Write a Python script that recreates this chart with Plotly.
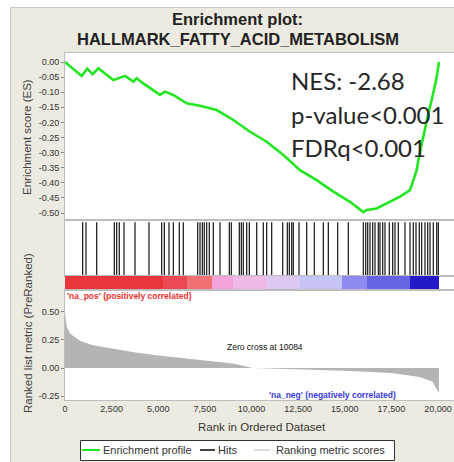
import plotly.graph_objects as go

# ---------------- data ----------------
es_rank = [0, 894, 1197, 1484, 1788, 2592, 3217, 3664, 3843, 4200, 5094, 5362, 5808,
           6523, 7238, 8132, 9026, 9920, 10814, 11707, 12601, 13495, 14388, 15282,
           15997, 16176, 16712, 17248, 17963, 18499, 18678, 18857, 18946, 19125,
           19303, 19482, 19661, 19900, 20054]
es_value = [0.0, -0.046, -0.022, -0.040, -0.021, -0.060, -0.046, -0.065, -0.054, -0.071,
            -0.109, -0.098, -0.109, -0.137, -0.145, -0.159, -0.192, -0.231, -0.264,
            -0.308, -0.358, -0.391, -0.429, -0.463, -0.497, -0.490, -0.485, -0.468,
            -0.446, -0.424, -0.391, -0.358, -0.325, -0.269, -0.225, -0.170, -0.126,
            -0.060, 0.0]

hit_rank = [947, 1126, 1698, 2645, 2770, 2913, 3164, 3753, 4504, 5183, 5326, 5576, 5809,
            6130, 6345, 7113, 7239, 7364, 7471, 7596, 7739, 7953, 8311, 8811, 8919,
            9347, 9455, 9562, 9741, 9884, 10277, 10634, 10813, 11081, 11671, 11921,
            12029, 12154, 12243, 12547, 12958, 13369, 13852, 14120, 14620, 15192,
            15996, 16122, 16229, 16354, 16497, 16622, 16801, 16890, 17033, 17158,
            17390, 17569, 17694, 17873, 18230, 18498, 18677, 18820, 18999, 19124,
            19303, 19446, 19571, 19750, 19929, 20018]

band_edges = [0, 5273, 6524, 7882, 9026, 10813, 12601, 14835, 16175, 18499, 20071]
band_colors = ['#E8363C', '#EC4A52', '#F07074', '#F2A4DA', '#EEBAE6', '#DCC8F2',
               '#C6C4F4', '#8E8AF0', '#6664E2', '#2418C8']

metric_rank = [0, 100, 300, 800, 1500, 2500, 3700, 5000, 7200, 9000, 10084, 12500,
               15000, 17500, 19000, 19700, 20050]
metric_value = [0.48, 0.36, 0.30, 0.24, 0.20, 0.17, 0.14, 0.11, 0.075, 0.04, 0.0,
                -0.01, -0.025, -0.045, -0.08, -0.12, -0.22]

x_tickvals = [0, 2500, 5000, 7500, 10000, 12500, 15000, 17500, 20000]
x_ticktext = ['0', '2,500', '5,000', '7,500', '10,000', '12,500', '15,000', '17,500', '20,000']
es_tickvals = [0.0, -0.05, -0.10, -0.15, -0.20, -0.25, -0.30, -0.35, -0.40, -0.45, -0.50]
es_ticktext = ['0.00', '-0.05', '-0.10', '-0.15', '-0.20', '-0.25', '-0.30', '-0.35',
               '-0.40', '-0.45', '-0.50']
metric_tickvals = [0.50, 0.25, 0.0, -0.25]
metric_ticktext = ['0.50', '0.25', '0.00', '-0.25']

title_lines = ['Enrichment plot:', 'HALLMARK_FATTY_ACID_METABOLISM']
stats_lines = ['NES: -2.68', 'p-value<0.001', 'FDRq<0.001']
legend_labels = ['Enrichment profile', 'Hits', 'Ranking metric scores']
legend_colors = ['#22E622', '#444444', '#DDDDDD']

# ---------------- geometry helpers ----------------
W, H = 454, 462
L, T, B = 65, 53, 400      # plot area pixel bounds
R = 454
PW, PH = R - L, B - T


def px(xp):
    return (xp - L) / PW


def py(yp):
    return (B - yp) / PH


FONT = 'Liberation Sans, Arial, sans-serif'
TICKC = '#333333'
FRAME = '#BDBDBD'
BG = '#EDEBE1'

fig = go.Figure()

# metric (bottom panel)
fig.add_trace(go.Scatter(x=metric_rank, y=metric_value, mode='lines', fill='tozeroy',
                         line=dict(width=0, color='#B4B4B4'), fillcolor='#B4B4B4',
                         xaxis='x', yaxis='y4', showlegend=False, hoverinfo='skip'))

# colour band
n = len(band_colors)
cs = [[i / (n - 1), c] for i, c in enumerate(band_colors)]
fig.add_trace(go.Heatmap(x=band_edges, y=[0, 1], z=[list(range(n))], colorscale=cs,
                         zmin=0, zmax=n - 1, showscale=False, xaxis='x', yaxis='y3',
                         hoverinfo='skip'))

# hits
hx, hy = [], []
for h in hit_rank:
    hx += [h, h, None]
    hy += [0, 1, None]
fig.add_trace(go.Scatter(x=hx, y=hy, mode='lines', line=dict(color='#262626', width=1.3),
                         xaxis='x', yaxis='y2', showlegend=False, hoverinfo='skip'))

# enrichment profile
fig.add_trace(go.Scatter(x=es_rank, y=es_value, mode='lines', name=legend_labels[0],
                         line=dict(color=legend_colors[0], width=2.6), xaxis='x', yaxis='y',
                         showlegend=False))

d_es = [py(220), 1.0]
d_hit = [py(276), py(220)]
d_band = [py(290), py(276)]
d_met = [0.0, py(290)]

es_top = (62 - T) / 302.0
es_bot = -(220 - 62) / 302.0
met_top = (368 - 290) / 113.2
met_bot = -(B - 368) / 113.2

axis_common = dict(showgrid=False, zeroline=False, showline=True, linecolor=FRAME,
                   linewidth=1, mirror=True)

fig.update_layout(
    width=W, height=H,
    margin=dict(l=L, r=W - R, t=T, b=H - B, pad=0),
    paper_bgcolor=BG, plot_bgcolor='white',
    font=dict(family=FONT, color=TICKC, size=9),
    showlegend=False,
    xaxis=dict(range=[0, (R - L) * 20000 / 373.0], anchor='y4', tickvals=x_tickvals,
               ticktext=x_ticktext, ticks='', tickfont=dict(size=9, color=TICKC),
               showgrid=False, zeroline=False, showline=True, linecolor=FRAME,
               mirror='all'),
    yaxis=dict(domain=d_es, range=[es_bot, es_top], tickvals=es_tickvals,
               ticktext=es_ticktext, ticks='outside', ticklen=3, tickcolor='#888888',
               tickfont=dict(size=9, color=TICKC), **axis_common),
    yaxis2=dict(domain=d_hit, range=[-0.0, 1.04], showticklabels=False, ticks='',
                **axis_common),
    yaxis3=dict(domain=d_band, range=[0, 1], showticklabels=False, ticks='',
                showgrid=False, zeroline=False, showline=False),
    yaxis4=dict(domain=d_met, range=[met_bot, met_top], tickvals=metric_tickvals,
                ticktext=metric_ticktext, ticks='outside', ticklen=3, tickcolor='#888888',
                tickfont=dict(size=9, color=TICKC), **axis_common),
)

ann = []
ann.append(dict(text='<b>' + title_lines[0] + '</b>', x=px(237), y=py(19), xref='paper',
                yref='paper', showarrow=False, xanchor='center', yanchor='middle',
                font=dict(size=16.5, color='#222222', family=FONT)))
ann.append(dict(text='<b>' + title_lines[1] + '</b>', x=px(237.5), y=py(39), xref='paper',
                yref='paper', showarrow=False, xanchor='center', yanchor='middle',
                font=dict(size=16.5, color='#222222', family=FONT)))
for s, yy in zip(stats_lines, [80, 114, 147]):
    ann.append(dict(text=s, x=px(289), y=py(yy), xref='paper', yref='paper',
                    showarrow=False, xanchor='left', yanchor='middle',
                    font=dict(size=24, color='#262626', family='Lato, sans-serif')))
ann.append(dict(text='Enrichment score (ES)', x=px(27), y=py(137), xref='paper',
                yref='paper', showarrow=False, textangle=-90, xanchor='center',
                yanchor='middle', font=dict(size=11.5, color='#444444', family=FONT)))
ann.append(dict(text='Ranked list metric (PreRanked)', x=px(28), y=py(333), xref='paper',
                yref='paper', showarrow=False, textangle=-90, xanchor='center',
                yanchor='middle', font=dict(size=11.5, color='#444444', family=FONT)))
ann.append(dict(text='Rank in Ordered Dataset', x=px(262), y=py(427), xref='paper',
                yref='paper', showarrow=False, xanchor='center', yanchor='middle',
                font=dict(size=11.5, color='#333333', family=FONT)))
ann.append(dict(text="<b>'na_pos' (positively correlated)</b>", x=px(65), y=py(296),
                xref='paper', yref='paper', showarrow=False, xanchor='left',
                yanchor='middle', font=dict(size=8.5, color='#E83030', family=FONT)))
ann.append(dict(text="<b>'na_neg' (negatively correlated)</b>", x=px(398), y=py(395),
                xref='paper', yref='paper', showarrow=False, xanchor='right',
                yanchor='middle', font=dict(size=8.5, color='#3A3AD8', family=FONT)))
ann.append(dict(text='Zero cross at 10084', x=px(265), y=py(347), xref='paper',
                yref='paper', showarrow=False, xanchor='center', yanchor='middle',
                font=dict(size=8.5, color='#111111', family=FONT)))

# hand-drawn legend (box, line samples, labels)
leg_line_x = [(82, 100), (200, 215), (254, 270)]
leg_text_x = [101, 216, 274]
for lab, tx in zip(legend_labels, leg_text_x):
    ann.append(dict(text=lab, x=px(tx), y=py(450), xref='paper', yref='paper',
                    showarrow=False, xanchor='left', yanchor='middle',
                    font=dict(size=11, color='#333333', family=FONT)))
fig.update_layout(annotations=ann)

shapes = [
    # outer frame: white margin strips and grey border line
    dict(type='rect', xref='paper', yref='paper', x0=px(-20), x1=px(10), y0=py(480),
         y1=py(-20), fillcolor='white', line=dict(width=0), layer='below'),
    dict(type='rect', xref='paper', yref='paper', x0=px(10), x1=px(480), y0=py(7),
         y1=py(-20), fillcolor='white', line=dict(width=0), layer='below'),
    dict(type='line', xref='paper', yref='paper', x0=px(10.5), x1=px(10.5), y0=py(480),
         y1=py(7.5), line=dict(color='#C8C8C8', width=1), layer='below'),
    dict(type='line', xref='paper', yref='paper', x0=px(10.5), x1=px(480), y0=py(7.5),
         y1=py(7.5), line=dict(color='#C8C8C8', width=1), layer='below'),
    # legend box
    dict(type='rect', xref='paper', yref='paper', x0=px(80.5), x1=px(394.5), y0=py(460.5),
         y1=py(440.5), fillcolor='white', line=dict(color='#333333', width=1)),
]
for (a, b), c in zip(leg_line_x, legend_colors):
    shapes.append(dict(type='line', xref='paper', yref='paper', x0=px(a), x1=px(b),
                       y0=py(450), y1=py(450), line=dict(color=c, width=2)))
fig.update_layout(shapes=shapes)

fig.write_html('out.html', config={'displayModeBar': False},
               post_script="document.body.style.margin='0px';")
